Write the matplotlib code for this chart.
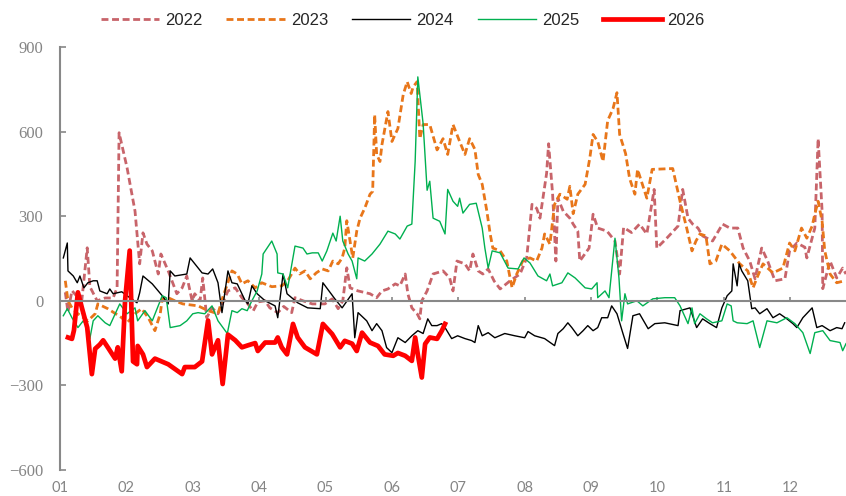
import numpy as np
import matplotlib
matplotlib.use("Agg")
import matplotlib.pyplot as plt

# x = position in the year in months (1.0 = 1 Jan), y = value
x_2022 = [1.08, 1.12, 1.18, 1.24, 1.33, 1.41, 1.45, 1.56, 1.68, 1.80, 1.86, 1.89, 2.01, 2.13, 2.20,
          2.25, 2.31, 2.39, 2.48, 2.52, 2.63, 2.76, 2.84, 2.91, 2.99, 3.03, 3.11, 3.15, 3.21, 3.29,
          3.38, 3.53, 3.64, 3.74, 3.83, 3.91, 3.98, 4.09, 4.16, 4.28, 4.37, 4.49, 4.54, 4.66, 4.80,
          4.99, 5.10, 5.19, 5.26, 5.32, 5.37, 5.49, 5.67, 5.77, 5.85, 5.94, 6.05, 6.12, 6.20, 6.24,
          6.30, 6.38, 6.42, 6.45, 6.53, 6.62, 6.77, 6.87, 6.92, 6.98, 7.10, 7.17, 7.22, 7.30, 7.37,
          7.45, 7.54, 7.63, 7.78, 7.93, 8.03, 8.11, 8.18, 8.23, 8.33, 8.36, 8.42, 8.47, 8.50, 8.58,
          8.68, 8.73, 8.80, 8.83, 8.97, 9.03, 9.10, 9.24, 9.36, 9.43, 9.49, 9.61, 9.73, 9.84, 9.95,
          9.99, 10.14, 10.31, 10.38, 10.46, 10.53, 10.61, 10.68, 10.83, 10.98, 11.09, 11.21, 11.29,
          11.39, 11.47, 11.57, 11.66, 11.77, 11.92, 11.99, 12.10, 12.22, 12.25, 12.37, 12.42, 12.48,
          12.49, 12.60, 12.70, 12.79, 12.84]
v_2022 = [30, -40, 36, 20, 5, 188, 50, 0, 10, 10, 46, 596, 472, 318, 131,
          241, 201, 177, 95, 166, 106, 25, 46, 88, 0, 25, 0, 81, -60, -25,
          -46, 35, 46, 11, -11, -36, -4, 0, -25, -42, -20, -42, 11, 0, -11,
          -11, 7, -28, 0, 117, 46, 35, 25, 11, 35, 42, 60, 53, 95, 25,
          -25, -46, -64, 0, 35, 95, 106, 81, 35, 141, 131, 106, 166, 106, 95,
          113, 70, 42, 71, 95, 152, 342, 328, 293, 452, 557, 380, 141, 364, 318,
          293, 272, 247, 141, 187, 307, 258, 247, 212, 95, 260, 242, 272, 237, 395,
          187, 222, 265, 395, 293, 272, 258, 230, 212, 272, 258, 258, 187,
          141, 78, 187, 141, 71, 78, 177, 205, 190, 152, 258, 575, 318,
          43, 141, 81, 116, 95]

x_2023 = [1.08, 1.12, 1.18, 1.27, 1.42, 1.53, 1.57, 1.72, 1.93, 2.01, 2.13, 2.23, 2.33, 2.43, 2.51,
          2.54, 2.63, 2.73, 2.85, 3.08, 3.23, 3.38, 3.45, 3.59, 3.67, 3.74, 3.83, 3.94, 4.04, 4.19,
          4.34, 4.43, 4.54, 4.61, 4.69, 4.77, 4.86, 4.95, 5.04, 5.11, 5.19, 5.25, 5.29, 5.32, 5.37,
          5.41, 5.47, 5.52, 5.59, 5.67, 5.71, 5.74, 5.77, 5.82, 5.85, 5.94, 6.00, 6.09, 6.17, 6.23,
          6.29, 6.32, 6.38, 6.42, 6.47, 6.57, 6.68, 6.77, 6.84, 6.92, 7.02, 7.10, 7.17, 7.25, 7.30,
          7.36, 7.43, 7.48, 7.52, 7.63, 7.73, 7.81, 7.88, 7.97, 8.08, 8.18, 8.26, 8.30, 8.38, 8.45,
          8.53, 8.64, 8.68, 8.73, 8.80, 8.91, 8.98, 9.03, 9.10, 9.18, 9.25, 9.33, 9.39, 9.43, 9.52,
          9.58, 9.66, 9.70, 9.84, 9.92, 10.23, 10.34, 10.44, 10.52, 10.58, 10.64, 10.73, 10.79, 10.88,
          10.97, 11.09, 11.24, 11.36, 11.44, 11.51, 11.59, 11.74, 11.89, 11.99, 12.07, 12.17, 12.25,
          12.33, 12.37, 12.42, 12.48, 12.52, 12.60, 12.70, 12.82]
v_2023 = [71, 0, -25, -46, -71, -46, -11, -28, -60, -78, -46, -28, -60, -106, -46,
          7, 11, 0, -11, -18, -35, -46, 11, 106, 95, 60, 71, 46, 64, 50,
          53, 71, 116, 95, 106, 78, 99, 113, 106, 141, 131, 152, 187, 284, 212,
          152, 247, 293, 328, 378, 388, 660, 519, 494, 554, 671, 565, 611, 731, 777,
          735, 759, 777, 575, 625, 625, 535, 575, 519, 625, 565, 519, 575, 537, 448,
          413, 318, 237, 187, 177, 141, 46, 95, 141, 152, 141, 187, 237, 201, 342,
          378, 360, 406, 309, 378, 413, 505, 590, 565, 494, 639, 681, 738, 590, 522,
          434, 378, 466, 364, 466, 469, 353, 258, 177, 212, 237, 230, 131, 141,
          201, 177, 131, 106, 46, 88, 131, 99, 116, 205, 177, 258, 222,
          265, 307, 353, 282, 177, 95, 64, 71]

x_2024 = [1.05, 1.11, 1.12, 1.20, 1.26, 1.30, 1.36, 1.42, 1.50, 1.56, 1.60, 1.71, 1.75, 1.80, 1.93,
          2.01, 2.16, 2.20, 2.25, 2.39, 2.54, 2.63, 2.66, 2.73, 2.91, 2.96, 3.14, 3.23, 3.30, 3.38,
          3.44, 3.53, 3.59, 3.67, 3.79, 3.83, 3.89, 3.97, 4.09, 4.24, 4.28, 4.36, 4.42, 4.49, 4.58,
          4.73, 4.92, 4.96, 5.14, 5.25, 5.40, 5.44, 5.49, 5.62, 5.70, 5.77, 5.85, 5.92, 6.00, 6.09,
          6.20, 6.30, 6.39, 6.47, 6.54, 6.60, 6.68, 6.75, 6.80, 6.90, 6.99, 7.10, 7.20, 7.25, 7.30,
          7.36, 7.45, 7.55, 7.70, 7.85, 8.00, 8.05, 8.15, 8.30, 8.45, 8.50, 8.58, 8.65, 8.71, 8.80,
          8.88, 8.95, 9.03, 9.10, 9.16, 9.25, 9.31, 9.39, 9.48, 9.55, 9.63, 9.73, 9.86, 9.96, 10.11,
          10.31, 10.34, 10.49, 10.59, 10.68, 10.79, 10.89, 10.97, 11.05, 11.12, 11.14, 11.20, 11.23,
          11.27, 11.36, 11.42, 11.47, 11.54, 11.65, 11.74, 11.84, 11.95, 12.04, 12.10, 12.19, 12.33,
          12.40, 12.48, 12.60, 12.70, 12.78, 12.82]
v_2024 = [152, 205, 106, 88, 64, 88, 46, 64, 71, 71, 35, 25, 42, 25, 32,
          18, -7, 28, 88, 60, 18, -11, 106, 88, 95, 152, 99, 95, 113, 64,
          -42, 106, 64, 60, 0, -11, 53, 25, 0, -18, -60, 95, 25, 11, -7,
          -25, -28, 64, 7, -25, 25, -131, -42, -71, -106, -81, -106, -166, -184, -131,
          -148, -124, -106, -116, -64, -88, -88, -81, -95, -134, -124, -134, -141, -148, -88,
          -124, -113, -131, -116, -124, -131, -109, -124, -134, -159, -116, -99, -78, -95, -124,
          -106, -88, -106, -95, -60, -60, -18, -46, -116, -169, -53, -46, -99, -81, -78,
          -88, -35, -25, -95, -64, -81, -95, -25, 18, 35, 131, 53, 131,
          106, 71, -28, -25, -46, -28, -60, -46, -64, -81, -95, -60, -25,
          -95, -88, -106, -95, -99, -78]

x_2025 = [1.05, 1.11, 1.18, 1.27, 1.35, 1.42, 1.45, 1.50, 1.57, 1.68, 1.75, 1.90, 2.01, 2.13, 2.17,
          2.28, 2.39, 2.54, 2.60, 2.66, 2.81, 2.91, 3.00, 3.08, 3.18, 3.29, 3.38, 3.52, 3.59, 3.67,
          3.74, 3.82, 3.89, 3.97, 4.04, 4.06, 4.19, 4.27, 4.28, 4.36, 4.43, 4.54, 4.66, 4.72, 4.80,
          4.89, 4.95, 5.02, 5.11, 5.16, 5.22, 5.26, 5.34, 5.40, 5.47, 5.49, 5.59, 5.70, 5.82, 5.94,
          6.05, 6.12, 6.23, 6.30, 6.35, 6.39, 6.47, 6.53, 6.57, 6.62, 6.72, 6.80, 6.84, 6.92, 6.99,
          7.02, 7.07, 7.17, 7.27, 7.31, 7.36, 7.40, 7.45, 7.51, 7.63, 7.75, 7.90, 7.99, 8.08, 8.20,
          8.33, 8.38, 8.42, 8.56, 8.65, 8.76, 8.91, 9.01, 9.09, 9.10, 9.21, 9.27, 9.36, 9.42, 9.46,
          9.51, 9.55, 9.69, 9.78, 9.93, 10.11, 10.26, 10.34, 10.46, 10.52, 10.56, 10.64, 10.74, 10.83,
          10.97, 11.05, 11.11, 11.14, 11.20, 11.35, 11.44, 11.54, 11.65, 11.80, 11.95, 12.07, 12.19,
          12.30, 12.37, 12.49, 12.60, 12.75, 12.79, 12.84]
v_2025 = [-53, -28, -60, -95, -71, -95, -134, -71, -53, -78, -88, -11, -46, -25, -71,
          -35, -71, 18, 11, -95, -88, -71, -46, -42, -46, -18, -71, -116, -35, -42,
          -28, -35, 0, 35, 95, 166, 212, 166, 99, 95, 46, 194, 187, 166, 170,
          170, 141, 177, 240, 212, 300, 212, 166, 141, 78, 152, 141, 166, 201, 247,
          237, 219, 265, 272, 494, 794, 628, 392, 424, 293, 282, 237, 395, 353, 335,
          364, 311, 342, 346, 307, 258, 187, 116, 177, 170, 116, 113, 152, 134, 88,
          71, 95, 53, 64, 99, 81, 46, 42, 64, 11, 35, 11, 222, 81, -71,
          25, -11, 0, -18, 7, 11, 11, -18, -81, -25, -81, -46, -64, -78,
          -71, -11, -18, -71, -78, -81, -71, -166, -71, -78, -60, -81, -113,
          -187, -113, -106, -141, -148, -177, -152]

x_2026 = [1.12, 1.18, 1.21, 1.27, 1.33, 1.41, 1.48, 1.53, 1.60, 1.65, 1.72, 1.83, 1.87, 1.93, 1.98,
          2.05, 2.10, 2.16, 2.17, 2.25, 2.31, 2.43, 2.63, 2.84, 2.88, 3.03, 3.14, 3.23, 3.29, 3.38,
          3.45, 3.53, 3.64, 3.74, 3.83, 3.94, 3.98, 4.09, 4.24, 4.28, 4.34, 4.42, 4.51, 4.58, 4.69,
          4.87, 4.96, 5.10, 5.22, 5.29, 5.40, 5.47, 5.55, 5.67, 5.79, 5.89, 6.02, 6.09, 6.20, 6.30,
          6.35, 6.39, 6.45, 6.50, 6.57, 6.68, 6.75, 6.80]
v_2026 = [-130, -135, -105, 30, -25, -95, -260, -170, -155, -140, -165, -205, -165, -250, 0,
          178, -215, -225, -160, -190, -235, -205, -225, -260, -235, -235, -215, -70, -190, -140,
          -295, -120, -140, -165, -158, -150, -178, -148, -148, -130, -165, -190, -82, -130, -165,
          -190, -82, -118, -165, -142, -152, -178, -113, -148, -160, -190, -195, -185, -195, -213,
          -130, -190, -272, -153, -130, -135, -107, -82]

months = ["01", "02", "03", "04", "05", "06", "07", "08", "09", "10", "11", "12"]
y_ticks = [-600, -300, 0, 300, 600, 900]

gray = "#888888"

fig = plt.figure(figsize=(8.46, 4.96), dpi=100)
ax = fig.add_axes([60 / 846, 26 / 496, 786 / 846, 423 / 496])

ax.plot(x_2022, v_2022, color="#C8646A", lw=2.0, dashes=(2.5, 1.3), label="2022")
ax.plot(x_2023, v_2023, color="#E8761A", lw=2.0, dashes=(2.5, 1.3), label="2023")
ax.plot(x_2024, v_2024, color="black", lw=1.0, label="2024")
ax.plot(x_2025, v_2025, color="#00B050", lw=1.0, label="2025")
ax.plot(x_2026, v_2026, color="#FF0000", lw=3.4, label="2026")

ax.set_xlim(1.0, 12.84)
ax.set_ylim(-600, 900)

# y axis
ax.set_yticks(y_ticks)
ax.tick_params(axis="y", direction="in", length=4, width=1.2, color=gray, pad=12,
               labelsize=12, labelcolor="#858585", labelfontfamily="Liberation Serif")
ax.spines["left"].set_color(gray)
ax.spines["left"].set_linewidth(1.5)
ax.spines["top"].set_visible(False)
ax.spines["right"].set_visible(False)

# zero line carries the month ticks
ax.spines["bottom"].set_position(("data", 0))
ax.spines["bottom"].set_color(gray)
ax.spines["bottom"].set_linewidth(1.5)
ax.set_xticks(np.arange(1, 13))
ax.tick_params(axis="x", direction="in", length=3, width=1.2, color=gray, labelbottom=False)

# month labels under the plot
sec = ax.secondary_xaxis("bottom")
sec.set_xticks(np.arange(1, 13), months)
sec.tick_params(length=0, pad=8, labelsize=10.5, labelcolor="#858585", labelfontfamily="Lato")
sec.spines["bottom"].set_visible(False)

leg = fig.legend(loc="upper center", bbox_to_anchor=(0.476, 1.005), ncol=5, frameon=False,
                 prop={"family": "Liberation Sans", "size": 12}, handlelength=3.5,
                 handletextpad=0.35, columnspacing=1.45)
for t in leg.get_texts():
    t.set_color("#262626")

fig.savefig("out.png", dpi=100)
